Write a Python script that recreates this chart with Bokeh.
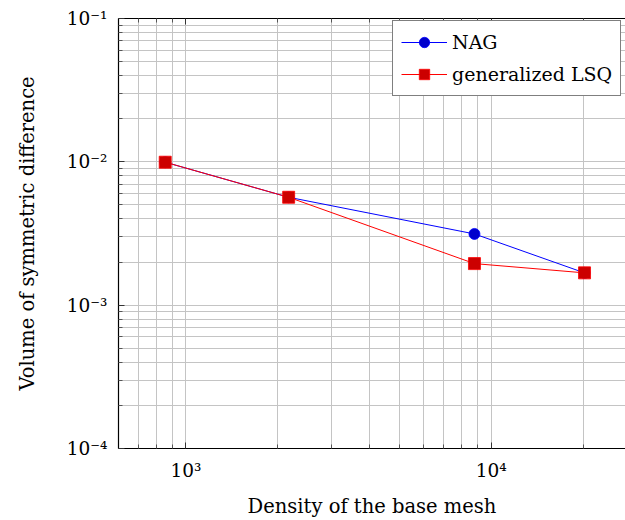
from bokeh.plotting import figure
from bokeh.models import LogAxis, FixedTicker, Legend, LegendItem, Range1d, CustomJSTickFormatter
from bokeh.embed import file_html
from bokeh.resources import INLINE

# ---- data ----
density = [855, 2170, 8817, 20230]
nag = [0.00994, 0.00566, 0.00314, 0.00168]
lsq = [0.00994, 0.00566, 0.00195, 0.00168]

x_major = [1000, 10000]
x_labels = ["10³", "10⁴"]
x_minor = [700, 800, 900, 2000, 3000, 4000, 5000, 6000, 7000, 8000, 9000, 20000]
y_major = [0.0001, 0.001, 0.01, 0.1]
y_labels = ["10⁻⁴", "10⁻³", "10⁻²", "10⁻¹"]
y_minor = [m * d for d in (0.0001, 0.001, 0.01) for m in range(2, 10)]

FONT = "DejaVu Serif"

p = figure(width=625, height=520, x_axis_type="log", y_axis_type="log",
           x_range=Range1d(601, 27560), y_range=Range1d(1e-4, 1e-1),
           output_backend="svg", toolbar_location=None,
           min_border_left=118, min_border_right=0, min_border_top=18,
           min_border_bottom=72)
p.outline_line_color = None
p.background_fill_color = "white"

xt = FixedTicker(ticks=x_major, minor_ticks=x_minor)
yt = FixedTicker(ticks=y_major, minor_ticks=y_minor)

for ax in (p.xaxis[0], p.yaxis[0]):
    ax.major_tick_in = 6
    ax.major_tick_out = 0
    ax.minor_tick_in = 4
    ax.minor_tick_out = 0
    ax.axis_line_color = "black"
    ax.axis_line_width = 1.2
    ax.major_tick_line_color = "#333333"
    ax.minor_tick_line_color = "#555555"
    ax.major_label_text_font = FONT
    ax.major_label_text_font_size = "18.5px"
    ax.major_label_text_color = "black"
    ax.axis_label_text_font = FONT
    ax.axis_label_text_font_size = "19.5px"
    ax.axis_label_text_font_style = "normal"
    ax.axis_label_text_color = "black"

p.xaxis[0].ticker = xt
p.yaxis[0].ticker = yt
p.xaxis[0].major_label_overrides = dict(zip(x_major, x_labels))
p.yaxis[0].major_label_overrides = dict(zip(y_major, y_labels))
p.xaxis[0].major_label_standoff = 11
p.yaxis[0].major_label_standoff = 11
p.xaxis[0].axis_label = "Density of the base mesh"
p.yaxis[0].axis_label = "Volume of symmetric difference"
p.xaxis[0].axis_label_standoff = 11
p.yaxis[0].axis_label_standoff = 25

top = LogAxis(ticker=xt, formatter=CustomJSTickFormatter(code="return ''"),
              major_label_standoff=0,
              major_tick_in=6, major_tick_out=0, minor_tick_in=4, minor_tick_out=0,
              axis_line_color="black", axis_line_width=1.2,
              major_tick_line_color="#333333", minor_tick_line_color="#555555")
p.add_layout(top, "above")

for g, t in ((p.xgrid[0], xt), (p.ygrid[0], yt)):
    g.ticker = t
    g.grid_line_color = "#c4c4c4"
    g.grid_line_width = 1
    g.minor_grid_line_color = "#c4c4c4"
    g.minor_grid_line_width = 1

l1 = p.line(density, nag, line_color="#0000ff", line_width=1)
s1 = p.scatter(density, nag, marker="circle", size=11, fill_color="#0000cc",
               line_color="#0000ff", line_width=0.8)
l2 = p.line(density, lsq, line_color="#ff0000", line_width=1)
s2 = p.scatter(density, lsq, marker="square", size=12, fill_color="#cc0000",
               line_color="#ff0000", line_width=0.8)

legend = Legend(items=[LegendItem(label="NAG", renderers=[l1, s1]),
                       LegendItem(label="generalized LSQ", renderers=[l2, s2])],
                location=(274, 352))
legend.label_text_font = FONT
legend.label_text_font_size = "19px"
legend.label_text_color = "black"
legend.border_line_color = "black"
legend.border_line_width = 1
legend.background_fill_color = "white"
legend.background_fill_alpha = 1
legend.padding = 8
legend.spacing = 6
legend.glyph_width = 46
legend.glyph_height = 26
legend.label_height = 24
legend.label_standoff = 5
p.add_layout(legend, "center")

open("out.html", "w").write(file_html(p, INLINE))
